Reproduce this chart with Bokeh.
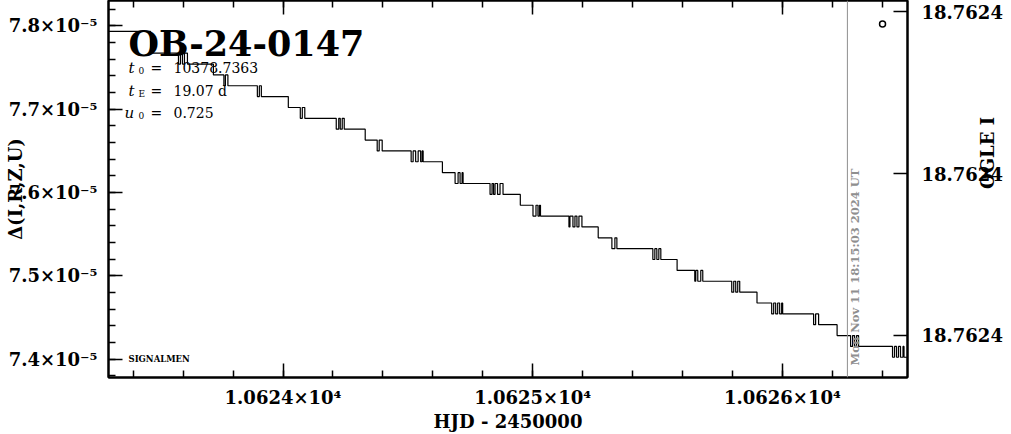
import math
from bokeh.plotting import figure
from bokeh.models import (Range1d, LinearAxis, FixedTicker, CustomJSTickFormatter,
                          PrintfTickFormatter, Span, Label)
from bokeh.embed import file_html
from bokeh.resources import INLINE

# ---------------- data ----------------
# quantised Delta(I,R,Z,U) levels (top to bottom)
levels = [7.7934e-5, 7.7673e-5, 7.7543e-5, 7.7412e-5, 7.7282e-5, 7.7152e-5,
          7.7021e-5, 7.6891e-5, 7.6760e-5, 7.6630e-5, 7.6499e-5, 7.6369e-5,
          7.6238e-5, 7.6108e-5, 7.5977e-5, 7.5847e-5, 7.5717e-5, 7.5586e-5,
          7.5456e-5, 7.5325e-5, 7.5195e-5, 7.5064e-5, 7.4934e-5, 7.4803e-5,
          7.4673e-5, 7.4542e-5, 7.4412e-5, 7.4282e-5, 7.4151e-5, 7.4021e-5]
# HJD-2450000 of the jumps between level k and level k+1 (flickering clusters)
toggle_hjd = [
    [10623.4692],
    [10623.5812, 10623.5892, 10623.5972, 10623.6052, 10623.6172],
    [10623.7212],
    [10623.7632, 10623.7692, 10623.7792],
    [10623.8972, 10623.9052, 10623.9132],
    [10624.0212],
    [10624.0692, 10624.0772, 10624.0872],
    [10624.2132, 10624.2232, 10624.2292, 10624.2372, 10624.2452],
    [10624.3292],
    [10624.3772, 10624.3852, 10624.3972],
    [10624.5132, 10624.5212, 10624.5312, 10624.5412, 10624.5512, 10624.5572, 10624.5612],
    [10624.6384],
    [10624.6892, 10624.7012, 10624.7092, 10624.7172, 10624.7212],
    [10624.8292, 10624.8372, 10624.8432, 10624.8492, 10624.8592, 10624.8692, 10624.8812],
    [10624.9504],
    [10625.0012, 10625.0132, 10625.0212, 10625.0272, 10625.0312],
    [10625.1452, 10625.1492, 10625.1612, 10625.1692, 10625.1772, 10625.1852, 10625.1972],
    [10625.2624],
    [10625.3172, 10625.3292, 10625.3372],
    [10625.4812, 10625.4892, 10625.4972, 10625.5052, 10625.5132],
    [10625.5784],
    [10625.6492, 10625.6532, 10625.6612, 10625.6732, 10625.6812],
    [10625.7972, 10625.8052, 10625.8132, 10625.8212, 10625.8292],
    [10625.8984],
    [10625.9572, 10625.9652, 10625.9732, 10625.9812, 10625.9892, 10625.9972, 10626.0012],
    [10626.1252, 10626.1332, 10626.1452],
    [10626.2192],
    [10626.2732, 10626.2812, 10626.2892, 10626.2972, 10626.3052],
    [10626.4412, 10626.4492, 10626.4572, 10626.4652, 10626.4732, 10626.4832, 10626.4872],
]
hjd_first = 10623.28
hjd_last = 10626.52

ogle_hjd = [10626.4012]
ogle_mag = [18.7623815]

x_ticks = [10624, 10625, 10626]
x_tick_labels = ["1.0624×10⁴", "1.0625×10⁴", "1.0626×10⁴"]
y_ticks = [7.4e-5, 7.5e-5, 7.6e-5, 7.7e-5, 7.8e-5]
y_tick_labels = ["7.4×10⁻⁵", "7.5×10⁻⁵", "7.6×10⁻⁵", "7.7×10⁻⁵", "7.8×10⁻⁵"]
ogle_ticks = [18.76238, 18.76240, 18.76242]

event_name = "OB-24-0147"
param_symbols = ["t", "t", "u"]
param_subscripts = ["0", "E", "0"]
param_values = ["10378.7363", "19.07 d", "0.725"]
now_hjd = 10626.2605
now_text = "Mon Nov 11 18:15:03 2024 UT"
x_title = "HJD - 2450000"
y_title = "Δ(I,R,Z,U)"
y2_title = "OGLE I"
corner_text = "SIGNALMEN"

# ---------------- build the staircase polyline ----------------
xs = [hjd_first]
ys = [levels[0]]
for k, toggles in enumerate(toggle_hjd):
    hi, lo = levels[k], levels[k + 1]
    cur = hi
    for t in toggles:
        nxt = lo if cur == hi else hi
        xs += [t, t]
        ys += [cur, nxt]
        cur = nxt
xs.append(hjd_last)
ys.append(levels[-1])

X0, X1 = 10623.301, 10626.5012
Y0, Y1 = 7.3778e-5, 7.8306e-5

FONT = "DejaVu Serif"

p = figure(width=1011, height=434, output_backend="svg", toolbar_location=None,
           x_range=Range1d(X0, X1), y_range=Range1d(Y0, Y1),
           min_border_left=108, min_border_right=103, min_border_top=0,
           min_border_bottom=57)
p.grid.visible = False
p.outline_line_color = "black"
p.outline_line_width = 2
p.background_fill_color = "white"
p.border_fill_color = "white"

x_minor = [round(10623.4 + 0.2 * i, 1) for i in range(16)]
y_minor = [7.38e-5 + 0.02e-5 * i for i in range(23)]

def style_axis(ax, size="18px"):
    ax.major_tick_in = 14
    ax.major_tick_out = 0
    ax.minor_tick_in = 7
    ax.minor_tick_out = 0
    ax.axis_line_width = 2
    ax.axis_line_color = "black"
    ax.major_tick_line_width = 1.5
    ax.minor_tick_line_width = 1.5
    ax.major_tick_line_color = "black"
    ax.minor_tick_line_color = "black"
    ax.major_label_text_font = FONT
    ax.major_label_text_font_style = "bold"
    ax.major_label_text_font_size = size
    ax.major_label_text_color = "black"
    ax.axis_label_text_font = FONT
    ax.axis_label_text_font_style = "bold"
    ax.axis_label_text_font_size = "18px"
    ax.axis_label_text_color = "black"

nearest_code = """
let best = 0;
for (let i = 0; i < tvals.length; i++) {
  if (Math.abs(tvals[i] - tick) < Math.abs(tvals[best] - tick)) best = i;
}
return tlabels[best];
"""

xax = p.xaxis[0]
xax.ticker = FixedTicker(ticks=x_ticks, minor_ticks=x_minor)
xax.formatter = CustomJSTickFormatter(args=dict(tvals=x_ticks, tlabels=x_tick_labels), code=nearest_code)
style_axis(xax)
xax.major_label_standoff = 9
xax.axis_label = x_title
xax.axis_label_standoff = 0

yax = p.yaxis[0]
yax.ticker = FixedTicker(ticks=y_ticks, minor_ticks=y_minor)
yax.formatter = CustomJSTickFormatter(args=dict(tvals=y_ticks, tlabels=y_tick_labels), code=nearest_code)
style_axis(yax)
yax.major_label_standoff = 11
yax.axis_label = y_title
yax.axis_label_standoff = -20

top = LinearAxis(ticker=FixedTicker(ticks=x_ticks, minor_ticks=x_minor))
style_axis(top)
top.major_label_text_font_size = "1px"
top.major_label_text_color = None
top.major_label_standoff = 0
p.add_layout(top, "above")

p.extra_y_ranges = {"ogle": Range1d(18.7624252, 18.7623786)}
right = LinearAxis(y_range_name="ogle", ticker=FixedTicker(ticks=ogle_ticks, minor_ticks=[]),
                   formatter=PrintfTickFormatter(format="%.4f"))
style_axis(right)
right.major_label_standoff = 14
right.axis_label = y2_title
right.axis_label_standoff = -18
if "axis_label_orientation" in right.properties():
    right.axis_label_orientation = math.pi / 2
p.add_layout(right, "right")

# data
p.line(xs, ys, line_color="black", line_width=1.2)
p.scatter(ogle_hjd, ogle_mag, y_range_name="ogle", marker="circle", size=6,
          fill_color="white", line_color="black", line_width=1.5)

p.add_layout(Span(location=now_hjd, dimension="height", line_color="#8f8f8f", line_width=1))

# texts inside the frame
def lab(**kw):
    kw.setdefault("text_font", FONT)
    kw.setdefault("text_color", "black")
    p.add_layout(Label(**kw))

lab(x=X0, y=Y1, x_offset=20, y_offset=-43, text=event_name, text_font_style="bold",
    text_font_size="35px", text_baseline="alphabetic")

base_offsets = [-67, -90.5, -112]
sym_x = [20, 20, 16]
for i in range(3):
    lab(x=X0, y=Y1, x_offset=sym_x[i], y_offset=base_offsets[i], text=param_symbols[i],
        text_font_style="italic", text_font_size="15px", text_baseline="alphabetic")
    lab(x=X0, y=Y1, x_offset=30, y_offset=base_offsets[i] - 2.5, text=param_subscripts[i],
        text_font_size="9px", text_baseline="alphabetic")
    lab(x=X0, y=Y1, x_offset=42, y_offset=base_offsets[i], text="=",
        text_font_size="14px", text_baseline="alphabetic")
    lab(x=X0, y=Y1, x_offset=65, y_offset=base_offsets[i], text=param_values[i],
        text_font_size="14px", text_baseline="alphabetic")

lab(x=X0, y=Y0, x_offset=20, y_offset=19, text=corner_text, text_font_style="bold",
    text_font_size="8.5px", text_baseline="alphabetic")

lab(x=now_hjd, y=Y0, x_offset=7.5, y_offset=12, angle=math.pi / 2, text=now_text,
    text_color="#8f8f8f", text_font_style="bold", text_font_size="11.5px",
    text_align="left", text_baseline="middle")

open("out.html", "w").write(file_html(p, INLINE))
